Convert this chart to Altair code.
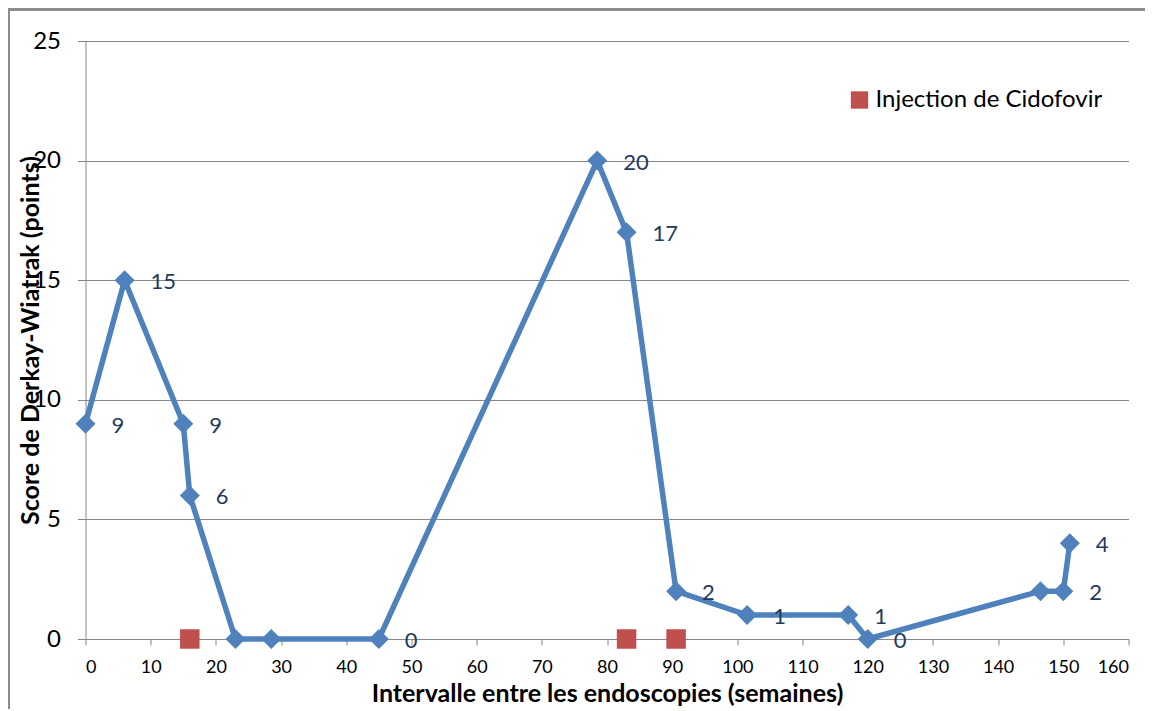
import altair as alt
import pandas as pd

weeks = [0, 6, 15, 16, 23, 28.5, 45, 78.5, 83, 90.6, 101.5, 117, 120, 146.5, 150, 151]
scores = [9, 15, 9, 6, 0, 0, 0, 20, 17, 2, 1, 1, 0, 2, 2, 4]
labels = ["9", "15", "9", "6", "", "", "0", "20", "17", "2", "1", "1", "0", "", "2", "4"]
injection_weeks = [16, 83, 90.6]
injection_scores = [0, 0, 0]
injection_name = "Injection de Cidofovir"

FONT = "Lato"
W, H = 1043, 598
AXIS_COLOR = "#878787"

df = pd.DataFrame({"week": weeks, "score": scores, "label": labels})
inj = pd.DataFrame({"week": injection_weeks, "score": injection_scores,
                    "serie": [injection_name] * len(injection_weeks)})

xscale = alt.Scale(domain=[0, 160], nice=False, zero=False)
yscale = alt.Scale(domain=[0, 25], nice=False)

xaxis = alt.Axis(values=list(range(0, 161, 10)), title="Intervalle entre les endoscopies (semaines)",
                 grid=False, domainColor=AXIS_COLOR, tickColor=AXIS_COLOR, tickSize=6,
                 labelFontSize=18, labelFont=FONT, labelColor="#000", labelPadding=13,
                 titleFont=FONT, titleFontSize=25, titleFontWeight="bold", titleColor="#000",
                 titlePadding=5)
yaxis = alt.Axis(values=list(range(0, 26, 5)), title="Score de Derkay-Wiatrak (points)",
                 grid=True, gridColor=AXIS_COLOR, gridWidth=1.2, domainColor=AXIS_COLOR,
                 tickColor=AXIS_COLOR, tickSize=8, labelFontSize=24, labelFont=FONT,
                 labelColor="#000", labelPadding=17,
                 titleFont=FONT, titleFontSize=25, titleFontWeight="bold", titleColor="#000",
                 titleX=-42, titleAngle=-90)

base = alt.Chart(df)

line = base.mark_line(color="#4F81BD", strokeWidth=5.5).encode(
    x=alt.X("week:Q", scale=xscale, axis=xaxis),
    y=alt.Y("score:Q", scale=yscale, axis=yaxis),
)
points = base.mark_point(shape="diamond", filled=True, size=400, color="#4F81BD", opacity=1).encode(
    x=alt.X("week:Q", scale=xscale),
    y=alt.Y("score:Q", scale=yscale),
)
text = base.mark_text(align="left", baseline="middle", dx=26, dy=2, fontSize=22,
                      font=FONT, color="#1F3A60").encode(
    x=alt.X("week:Q", scale=xscale),
    y=alt.Y("score:Q", scale=yscale),
    text="label:N",
)
squares = alt.Chart(inj).mark_point(shape="square", filled=True, size=380, opacity=1).encode(
    x=alt.X("week:Q", scale=xscale),
    y=alt.Y("score:Q", scale=yscale),
    color=alt.Color("serie:N", scale=alt.Scale(domain=[injection_name], range=["#C0504D"]),
                    legend=alt.Legend(title=None, orient="none", legendX=762, legendY=47,
                                      symbolType="square", symbolSize=300, labelFontSize=24,
                                      labelFont=FONT, labelColor="#000", symbolOpacity=1,
                                      labelOffset=4, labelLimit=0)),
)
frame = alt.Chart(df).mark_rect(fill=None, stroke="#8c8c8c", strokeWidth=1.5).encode(
    x=alt.value(-77), x2=alt.value(W + 200), y=alt.value(-31.5), y2=alt.value(H + 300)
)

chart = alt.layer(frame, line, points, squares, text).properties(
    width=W, height=H,
    autosize=alt.AutoSizeParams(type="none"),
    padding={"left": 77.5, "top": 33, "right": 16, "bottom": 70},
).configure_view(stroke=None)

chart.save("out.html", embed_options={"renderer": "svg", "actions": False})
